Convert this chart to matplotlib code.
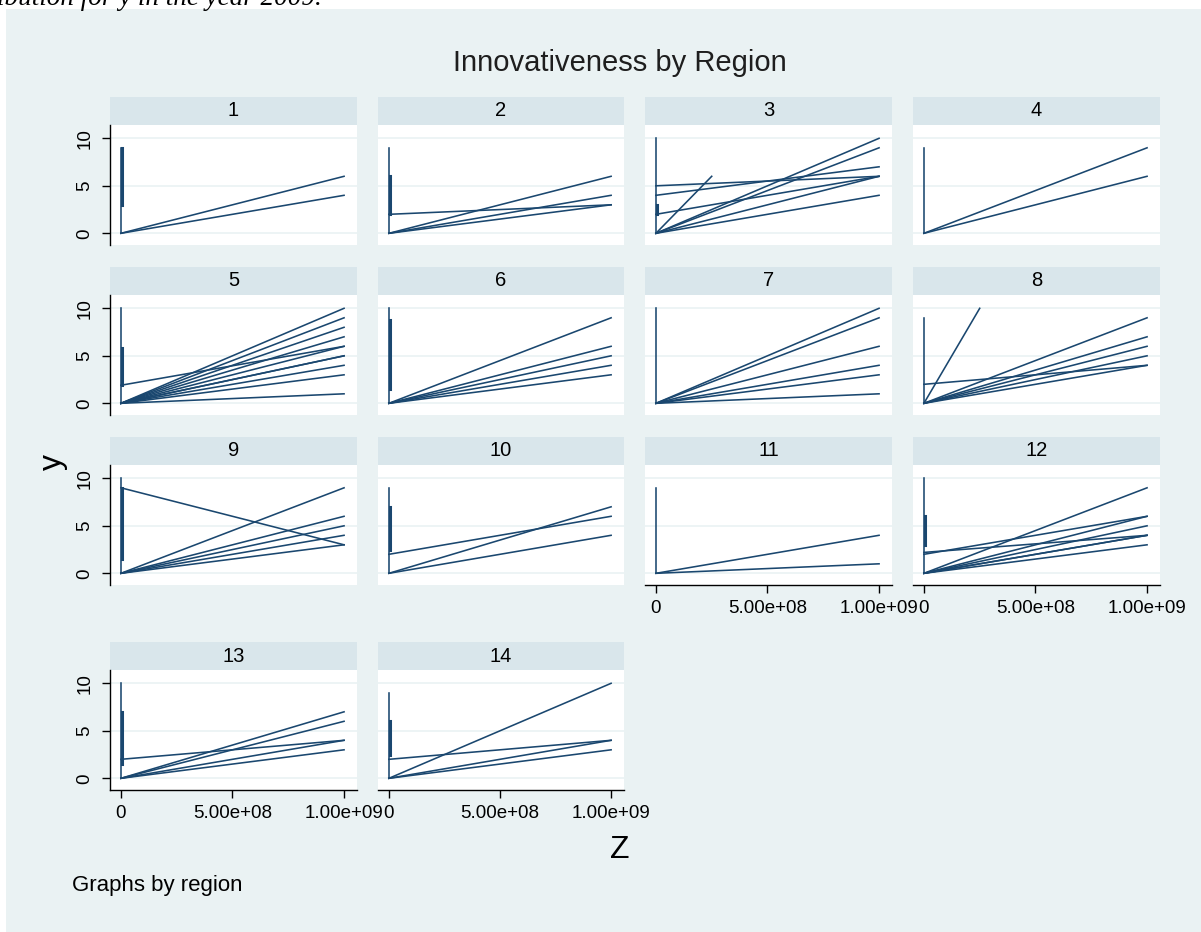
import numpy as np
import matplotlib
matplotlib.use("Agg")
from matplotlib import pyplot as plt
from matplotlib.patches import Rectangle

plt.rcParams['font.family'] = ['Liberation Sans', 'DejaVu Sans']

## data (y against z, one panel per region)
regions = list(range(1, 15))
spike_top = [9, 9, 10, 9, 10, 10, 10, 9, 10, 9, 9, 10, 10, 9]
# thicker part of the spike at z ~ 0 (several obs on top of each other)
spike_band = {1: (3, 9), 2: (2, 6), 3: (2, 3), 5: (1.9, 5.8), 6: (1.5, 8.8),
              9: (1.5, 9), 10: (2.5, 7), 12: (3, 6), 13: (1.5, 7), 14: (2.5, 6)}
# lines going from (0, 0) to (1e9, end)
fan_ends = {1: [6, 4], 2: [6, 4, 3], 3: [10, 9, 6, 4], 4: [9, 6],
            5: [10, 9, 8, 7, 6, 5, 5, 4, 3, 1], 6: [9, 6, 5, 4, 3],
            7: [10, 9, 6, 4, 3, 1], 8: [9, 7, 6, 5, 4], 9: [9, 6, 5, 4, 3],
            10: [7, 4], 11: [4, 1], 12: [9, 6, 5, 4, 4, 3], 13: [7, 6, 4, 3],
            14: [10, 4, 3]}
# other segments (z0, y0, z1, y1)
other_lines = {2: [(0, 2, 1e9, 3)],
               3: [(0, 5, 1e9, 6), (0, 4, 1e9, 7), (0, 2, 1e9, 6), (0, 0, 2.5e8, 6)],
               5: [(0, 1.9, 1e9, 6)],
               8: [(0, 2, 1e9, 4), (0, 0, 2.5e8, 10)],
               9: [(0, 9, 1e9, 3)],
               10: [(0, 2, 1e9, 6)],
               12: [(0, 2, 1e9, 6), (0, 2.2, 1e9, 4)],
               13: [(0, 2, 1e9, 4)],
               14: [(0, 2, 1e9, 4)]}
x_ticks = [0, 5e8, 1e9]
x_tick_labels = ['0', '5.00e+08', '1.00e+09']
y_ticks = [0, 5, 10]
x_axis_regions = [11, 12, 13, 14]

line_col = '#1A476F'
bg_col = '#EAF2F3'
strip_col = '#D9E6EB'

W, H = 1201, 932
fig = plt.figure(figsize=(W / 100, H / 100), dpi=100)
fig.patch.set_facecolor('white')

def rect(x0, y0, x1, y1):
    # pixel box (from top left) -> figure fractions
    return [x0 / W, 1 - y1 / H, (x1 - x0) / W, (y1 - y0) / H]

fig.patches.append(Rectangle((6 / W, 0), (W - 6) / W, (H - 9) / H,
                             transform=fig.transFigure, facecolor=bg_col,
                             edgecolor='none', zorder=-5))

col_x = [(110, 357), (378, 624), (645, 892), (913, 1160)]
row_top = [97, 267, 437, 642]
strip_h = 28
plot_h = 120

for i, reg in enumerate(regions):
    row, col = divmod(i, 4)
    x0, x1 = col_x[col]
    top = row_top[row]

    st = fig.add_axes(rect(x0, top, x1, top + strip_h))
    st.set_facecolor(strip_col)
    st.set_xticks([])
    st.set_yticks([])
    for s in st.spines.values():
        s.set_visible(False)
    st.text(0.5, 0.5, str(reg), ha='center', va='center', fontsize=14.5,
            transform=st.transAxes)

    ax = fig.add_axes(rect(x0, top + strip_h, x1, top + strip_h + plot_h))
    ax.set_facecolor('white')
    ax.set_xlim(-0.049e9, 1.058e9)
    ax.set_ylim(-1.23, 11.4)
    for y in y_ticks:
        ax.axhline(y, color=bg_col, lw=1.2, zorder=0)

    # vertical spike at z = 0
    ax.plot([0, 0], [0, spike_top[i]], color=line_col, lw=1.15)
    if reg in spike_band:
        lo, hi = spike_band[reg]
        ax.plot([6e6, 6e6], [lo, hi], color=line_col, lw=2.2)
    for e in fan_ends[reg]:
        ax.plot([0, 1e9], [0, e], color=line_col, lw=1.15)
    for z0, y0, z1, y1 in other_lines.get(reg, []):
        ax.plot([z0, z1], [y0, y1], color=line_col, lw=1.15)

    for s in ax.spines.values():
        s.set_visible(False)

    ax.set_yticks(y_ticks)
    if col == 0:
        ax.spines['left'].set_visible(True)
        ax.spines['left'].set_linewidth(1.0)
        ax.set_yticklabels([str(v) for v in y_ticks], rotation=90, va='center')
        ax.tick_params(axis='y', length=6, width=1.0, pad=6, labelsize=13.5)
    else:
        ax.tick_params(axis='y', left=False, labelleft=False)

    ax.set_xticks(x_ticks)
    if reg in x_axis_regions:
        ax.spines['bottom'].set_visible(True)
        ax.spines['bottom'].set_linewidth(1.0)
        ax.set_xticklabels(x_tick_labels)
        ax.tick_params(axis='x', length=6, width=1.0, pad=5, labelsize=13.5)
    else:
        ax.tick_params(axis='x', bottom=False, labelbottom=False)

fig.text(620 / W, 1 - 63 / H, 'Innovativeness by Region', ha='center',
         va='center', fontsize=21, color='#1E1E1E')
fig.text(53 / W, 1 - 462 / H, 'y', ha='center', va='center', rotation=90,
         fontsize=23)
fig.text(620 / W, 1 - 850 / H, 'Z', ha='center', va='center', fontsize=23)
fig.text(72 / W, 1 - 885 / H, 'Graphs by region', ha='left', va='center',
         fontsize=16)
fig.text(-3 / W, 1 - 5 / H, 'ibution for y in the year 2009.', ha='left',
         va='baseline', fontsize=19.5, style='italic',
         family=['Liberation Serif', 'DejaVu Serif'])

fig.savefig('out.png', dpi=100)
